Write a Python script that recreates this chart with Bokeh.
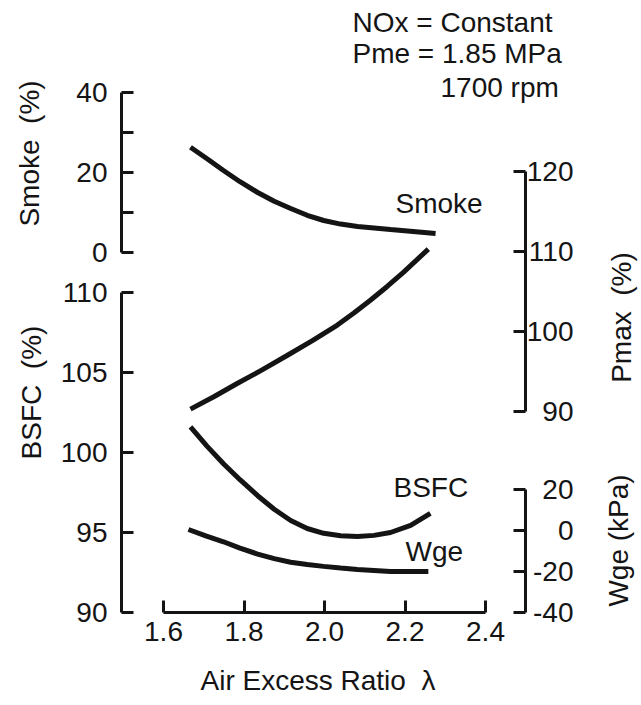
import math
from bokeh.plotting import figure
from bokeh.models import Range1d, LinearAxis, FixedTicker
from bokeh.embed import file_html
from bokeh.resources import INLINE
from bokeh.core.properties import value

# ---------------- data ----------------
lam_smoke = [1.667, 1.710, 1.749, 1.790, 1.834, 1.875, 1.916, 1.957, 1.998, 2.040, 2.082, 2.164, 2.276]
smoke = [26.3, 23.3, 20.5, 17.7, 15.0, 12.8, 11.0, 9.3, 8.0, 7.1, 6.5, 5.75, 4.75]

lam_pmax = [1.667, 1.725, 1.783, 1.845, 1.907, 1.970, 2.032, 2.073, 2.114, 2.155, 2.196, 2.258]
pmax = [90.3, 91.85, 93.5, 95.2, 97.0, 98.85, 100.8, 102.3, 103.9, 105.6, 107.4, 110.3]

lam_bsfc = [1.667, 1.708, 1.749, 1.790, 1.834, 1.875, 1.916, 1.957, 1.998, 2.040, 2.082, 2.123, 2.164, 2.214, 2.263]
bsfc = [101.6, 100.4, 99.3, 98.3, 97.3, 96.45, 95.75, 95.25, 94.95, 94.8, 94.75, 94.82, 95.0, 95.45, 96.2]

lam_wge = [1.662, 1.705, 1.749, 1.790, 1.834, 1.875, 1.916, 1.957, 1.998, 2.040, 2.082, 2.164, 2.258]
wge = [0.5, -2.6, -5.5, -8.6, -11.5, -13.7, -15.5, -16.6, -17.5, -18.3, -19.0, -20.0, -20.0]

x_ticks = [1.6, 1.8, 2.0, 2.2, 2.4]
x_tick_labels = ["1.6", "1.8", "2.0", "2.2", "2.4"]
smoke_ticks = [0, 20, 40]
smoke_minor = [10, 30]
bsfc_ticks = [90, 95, 100, 105, 110]
pmax_ticks = [90, 100, 110, 120]
pmax_tick_labels = ["90", "100", "110", "120"]
wge_ticks = [-40, -20, 0, 20]
wge_tick_labels = ["-40", "-20", "0", "20"]

note_lines = ["NOx = Constant", "Pme = 1.85 MPa", "1700 rpm"]
curve_names = ["Smoke", "BSFC", "Wge"]
x_title = "Air Excess Ratio \u00a0\u03bb"
left_titles = ["Smoke \u00a0(%)", "BSFC \u00a0(%)"]
right_titles = ["Pmax \u00a0(%)", "Wge (kPa)"]

# ---------------- layout (page pixels) ----------------
W, H = 641, 705
FONT = "Liberation Sans"
FS = "28px"
INK = "#141414"

def lam_of(px):          # page x -> lambda
    return 1.6 + (px - 163) / 402.5

def bsfc_of(py):         # page y -> BSFC
    return 90 + (612 - py) / 16.0

def smoke_of(py):
    return (252 - py) / 4.0

def pmax_of(py):
    return 120 + (171 - py) / 8.0

def wge_of(py):
    return -40 + (612 - py) / 2.05

p = figure(width=W, height=H,
           x_range=Range1d(lam_of(0), lam_of(W)),
           y_range=Range1d(bsfc_of(H), bsfc_of(0)),
           output_backend="svg", toolbar_location=None,
           min_border=0, min_border_left=0, min_border_right=0,
           min_border_top=0, min_border_bottom=0)
p.outline_line_color = None
p.grid.visible = False
p.background_fill_color = "white"
p.border_fill_color = "white"

p.extra_y_ranges = {
    "smoke": Range1d(smoke_of(H), smoke_of(0)),
    "pmax": Range1d(pmax_of(H), pmax_of(0)),
    "wge": Range1d(wge_of(H), wge_of(0)),
}

def style_axis(ax, standoff):
    ax.axis_line_width = 3
    ax.axis_line_color = INK
    ax.major_tick_line_width = 3
    ax.major_tick_line_color = INK
    ax.major_tick_in = 12
    ax.major_tick_out = 0
    ax.minor_tick_line_width = 3
    ax.minor_tick_line_color = INK
    ax.minor_tick_in = 12
    ax.minor_tick_out = 0
    ax.major_label_text_font = FONT
    ax.major_label_text_font_size = FS
    ax.major_label_text_color = INK
    ax.major_label_standoff = standoff

LEFT_X = lam_of(121)
RIGHT_X = lam_of(525)

# x axis, fixed on the BSFC = 90 level
xa = p.xaxis[0]
xa.fixed_location = bsfc_ticks[0]
xa.ticker = FixedTicker(ticks=x_ticks)
xa.major_label_overrides = {t: s for t, s in zip(x_ticks, x_tick_labels)}
xa.bounds = (x_ticks[0], x_ticks[-1])
style_axis(xa, 9)
xa.minor_tick_line_color = None

ya = p.yaxis[0]
ya.fixed_location = LEFT_X
ya.bounds = (bsfc_ticks[0], bsfc_ticks[-1])
ya.ticker = FixedTicker(ticks=bsfc_ticks)
style_axis(ya, 14)

ax_smoke = LinearAxis(y_range_name="smoke", fixed_location=LEFT_X,
                      bounds=(smoke_ticks[0], smoke_ticks[-1]),
                      ticker=FixedTicker(ticks=smoke_ticks, minor_ticks=smoke_minor))
style_axis(ax_smoke, 14)
p.add_layout(ax_smoke, "left")

ax_pmax = LinearAxis(y_range_name="pmax", fixed_location=RIGHT_X,
                     bounds=(pmax_ticks[0], pmax_ticks[-1]),
                     ticker=FixedTicker(ticks=pmax_ticks))
style_axis(ax_pmax, 4)
ax_pmax.major_label_overrides = {t: "" for t in pmax_ticks}
p.add_layout(ax_pmax, "right")

ax_wge = LinearAxis(y_range_name="wge", fixed_location=RIGHT_X,
                    bounds=(wge_ticks[0], wge_ticks[-1]),
                    ticker=FixedTicker(ticks=wge_ticks))
style_axis(ax_wge, 4)
ax_wge.major_label_overrides = {t: "" for t in wge_ticks}
p.add_layout(ax_wge, "right")

# curves
LW = 5
p.line(lam_smoke, smoke, y_range_name="smoke", line_width=LW, line_color=INK)
p.line(lam_pmax, pmax, y_range_name="pmax", line_width=LW, line_color=INK)
p.line(lam_bsfc, bsfc, line_width=LW, line_color=INK)
p.line(lam_wge, wge, y_range_name="wge", line_width=LW, line_color=INK)

def txt(xs, ys, texts, align="left", baseline="middle", angle=0.0, **kw):
    p.text(x=xs, y=ys, text=texts, text_font=value(FONT), text_font_size=FS,
           text_color=INK, text_align=align, text_baseline=baseline, angle=angle, **kw)

# right-hand tick labels, right aligned like the original
RLAB_X = lam_of(573)
txt([RLAB_X] * len(pmax_ticks), pmax_ticks, pmax_tick_labels,
    align="right", y_range_name="pmax")
txt([RLAB_X] * len(wge_ticks), wge_ticks, wge_tick_labels,
    align="right", y_range_name="wge")

# curve labels
txt([lam_of(395), lam_of(393), lam_of(405)],
    [bsfc_of(203), bsfc_of(487), bsfc_of(551)], curve_names)

# note in the top right corner
txt([lam_of(352), lam_of(352), lam_of(440)],
    [bsfc_of(22), bsfc_of(53), bsfc_of(87)], note_lines)

# axis titles (rotated)
txt([lam_of(29), lam_of(31)], [bsfc_of(153), bsfc_of(392)],
    left_titles, align="center", angle=math.pi / 2)
txt([lam_of(621), lam_of(618)], [bsfc_of(317), bsfc_of(540)],
    right_titles, align="center", angle=math.pi / 2)

# x axis title
txt([lam_of(200)], [bsfc_of(680)], [x_title])

open("out.html", "w").write(file_html(p, INLINE))
